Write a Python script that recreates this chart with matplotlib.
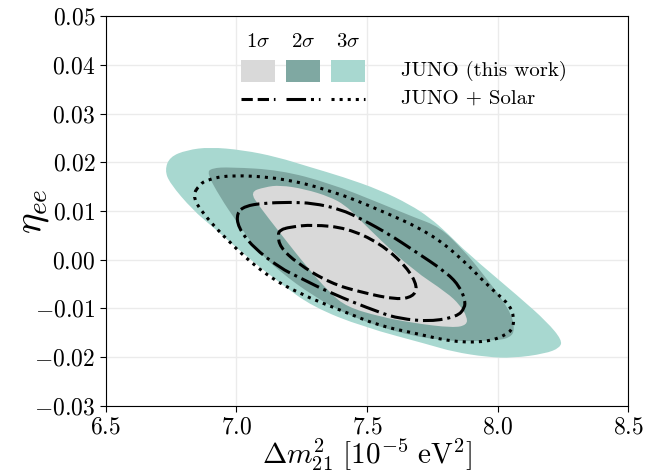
import matplotlib
matplotlib.use("Agg")
import matplotlib.pyplot as plt
from matplotlib.patches import Rectangle, PathPatch
from matplotlib.lines import Line2D
from matplotlib.path import Path
from matplotlib.ticker import FuncFormatter

plt.rcParams['mathtext.fontset'] = 'cm'
plt.rcParams['font.family'] = ['cmr10', 'DejaVu Serif']
plt.rcParams['axes.unicode_minus'] = False

# contour boundaries: (dm21^2 [1e-5 eV^2], eta_ee)
sig3_x = [6.726, 6.745, 6.810, 6.898, 7.025, 7.155, 7.282, 7.408, 7.550, 7.665, 7.741, 7.807,
          7.883, 8.086, 8.190, 8.247, 8.239, 8.182, 8.059, 7.960, 7.830, 7.741, 7.485, 7.293,
          7.167, 7.040, 6.910, 6.833, 6.745]
sig3_y = [0.0184, 0.0211, 0.0225, 0.0231, 0.0225, 0.0211, 0.0190, 0.0170, 0.0143, 0.0113, 0.0086, 0.0055,
          0.0014, -0.0078, -0.0128, -0.0165, -0.0181, -0.0193, -0.0202, -0.0200, -0.0189, -0.0175, -0.0138, -0.0097,
          -0.0048, 0.0006, 0.0067, 0.0102, 0.0157]

sig2_x = [6.887, 6.906, 6.975, 7.167, 7.358, 7.550, 7.676, 7.780, 7.868, 7.933, 8.048, 8.067,
          8.048, 7.998, 7.807, 7.615, 7.423, 7.293, 7.167, 7.079, 7.002, 6.937]
sig2_y = [0.0178, 0.0188, 0.0190, 0.0184, 0.0157, 0.0116, 0.0088, 0.0067, 0.0020, -0.0021, -0.0103, -0.0144,
          -0.0160, -0.0166, -0.0168, -0.0150, -0.0113, -0.0074, -0.0025, 0.0020, 0.0077, 0.0129]

sig1_x = [7.052, 7.109, 7.167, 7.262, 7.358, 7.416, 7.462, 7.550, 7.676, 7.807, 7.856, 7.883,
          7.883, 7.830, 7.676, 7.550, 7.423, 7.358, 7.270, 7.167, 7.090]
sig1_y = [0.0139, 0.0149, 0.0153, 0.0145, 0.0129, 0.0112, 0.0088, 0.0041, -0.0021, -0.0068, -0.0093, -0.0117,
          -0.0134, -0.0140, -0.0130, -0.0117, -0.0097, -0.0068, -0.0015, 0.0055, 0.0108]

sol3_x = [6.833, 6.860, 6.887, 6.975, 7.167, 7.358, 7.550, 7.741, 7.868, 7.960, 8.048, 8.063,
          8.059, 8.036, 7.960, 7.830, 7.676, 7.550, 7.423, 7.232, 7.102, 6.975, 6.860]
sol3_y = [0.0133, 0.0154, 0.0164, 0.0174, 0.0168, 0.0143, 0.0102, 0.0055, 0.0000, -0.0052, -0.0093, -0.0119,
          -0.0140, -0.0154, -0.0169, -0.0169, -0.0150, -0.0136, -0.0109, -0.0068, -0.0027, 0.0034, 0.0102]

sol2_x = [7.002, 7.033, 7.102, 7.205, 7.293, 7.397, 7.485, 7.588, 7.676, 7.807, 7.856, 7.875,
          7.875, 7.845, 7.741, 7.626, 7.550, 7.358, 7.243, 7.167, 7.063, 7.006]
sol2_y = [0.0096, 0.0110, 0.0116, 0.0118, 0.0116, 0.0104, 0.0082, 0.0051, 0.0020, -0.0027, -0.0056, -0.0082,
          -0.0099, -0.0117, -0.0127, -0.0121, -0.0109, -0.0068, -0.0037, -0.0017, 0.0026, 0.0067]

sol1_x = [7.167, 7.205, 7.293, 7.423, 7.550, 7.653, 7.695, 7.676, 7.615, 7.485, 7.358, 7.232,
          7.167, 7.159]
sol1_y = [0.0061, 0.0067, 0.0072, 0.0065, 0.0034, -0.0015, -0.0056, -0.0076, -0.0082, -0.0068, -0.0048, -0.0007,
          0.0026, 0.0051]

sigma_labels = [r'$1\sigma$', r'$2\sigma$', r'$3\sigma$']
fill_colors = ['#d9d9d9', '#7fa8a2', '#a8d8d0']
line_styles = ['--', '-.', ':']
xticks = [6.5, 7.0, 7.5, 8.0, 8.5]
yticks = [-0.03, -0.02, -0.01, 0.00, 0.01, 0.02, 0.03, 0.04, 0.05]


def smooth_closed(xs, ys):
    # closed quadratic b-spline through the read-off control points
    pts = list(zip(xs, ys))
    n = len(pts)
    mid = lambda a, b: ((a[0] + b[0]) / 2, (a[1] + b[1]) / 2)
    verts = [mid(pts[0], pts[1])]
    codes = [Path.MOVETO]
    for i in range(1, n + 1):
        verts += [pts[i % n], mid(pts[i % n], pts[(i + 1) % n])]
        codes += [Path.CURVE3, Path.CURVE3]
    return Path(verts, codes)


fig, ax = plt.subplots(figsize=(6.57, 4.73), dpi=100)
fig.subplots_adjust(left=0.161, right=0.956, top=0.966, bottom=0.142)

for xs, ys, col, z in [(sig3_x, sig3_y, fill_colors[2], 2), (sig2_x, sig2_y, fill_colors[1], 3),
                       (sig1_x, sig1_y, fill_colors[0], 4)]:
    ax.add_patch(PathPatch(smooth_closed(xs, ys), facecolor=col, edgecolor='none', zorder=z))

for xs, ys, ls in [(sol1_x, sol1_y, '--'), (sol2_x, sol2_y, '-.'), (sol3_x, sol3_y, ':')]:
    ax.add_patch(PathPatch(smooth_closed(xs, ys), fill=False, edgecolor='black', ls=ls, lw=2.2, zorder=5))

ax.set_xlim(6.5, 8.5)
ax.set_ylim(-0.03, 0.05)
ax.set_xticks(xticks)
ax.set_yticks(yticks)
ax.xaxis.set_major_formatter(FuncFormatter(lambda v, p: f'${v:.1f}$'))
ax.yaxis.set_major_formatter(FuncFormatter(lambda v, p: f'${v:.2f}$'))
ax.tick_params(labelsize=17, direction='out', length=4)
ax.grid(True, color='#ebebeb', lw=1)
ax.set_axisbelow(True)

ax.set_xlabel(r'$\Delta m^2_{21}\ [10^{-5}\ \mathrm{eV}^2]$', fontsize=21, labelpad=-1.5)
ax.set_ylabel(r'$\eta_{ee}$', fontsize=28, labelpad=-12)

# hand-built legend
x0s = [0.259, 0.345, 0.431]
w = 0.065
for x0, lab, col, ls in zip(x0s, sigma_labels, fill_colors, line_styles):
    ax.text(x0 + w / 2, 0.933, lab, transform=ax.transAxes, ha='center', va='center', fontsize=15)
    ax.add_patch(Rectangle((x0, 0.831), w, 0.056, transform=ax.transAxes, color=col, lw=0))
    ax.add_line(Line2D([x0, x0 + w], [0.787, 0.787], transform=ax.transAxes, color='black', ls=ls, lw=2.2))
ax.text(0.565, 0.860, 'JUNO (this work)', transform=ax.transAxes, va='center', fontsize=15)
ax.text(0.565, 0.787, 'JUNO + Solar', transform=ax.transAxes, va='center', fontsize=15)

fig.savefig('out.png', dpi=100)
